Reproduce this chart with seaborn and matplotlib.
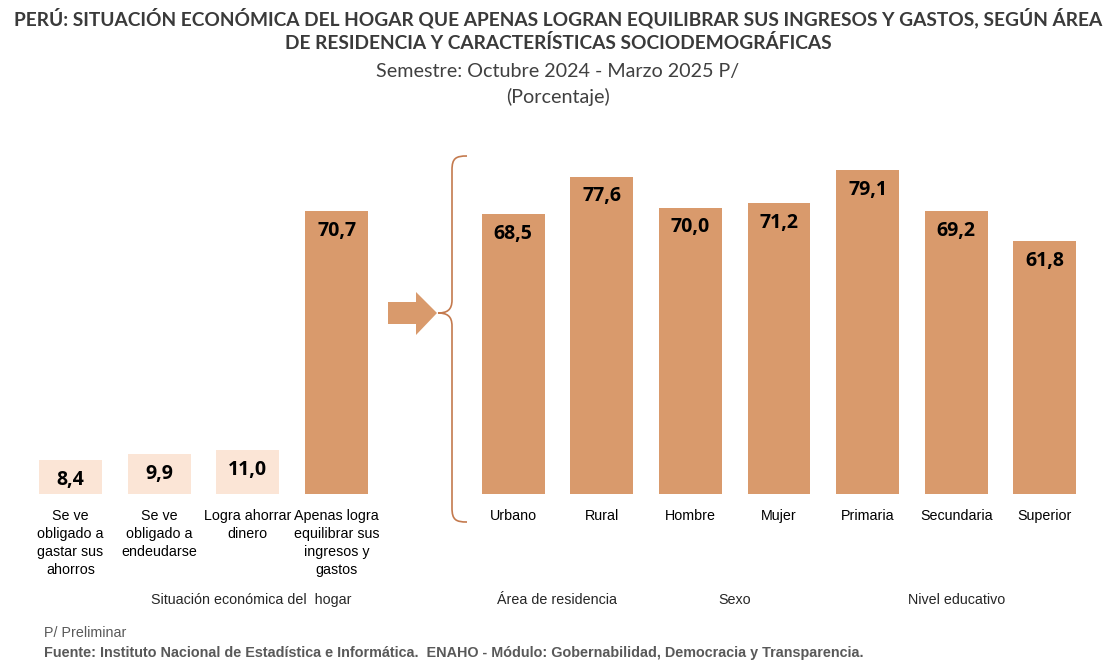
import pandas as pd
import matplotlib.pyplot as plt
import seaborn as sns
from matplotlib.patches import Polygon, PathPatch
from matplotlib.path import Path

# data
situacion = ['Se ve\nobligado a\ngastar sus\nahorros', 'Se ve\nobligado a\nendeudarse',
             'Logra ahorrar\ndinero', 'Apenas logra\nequilibrar sus\ningresos y\ngastos']
situacion_pct = [8.4, 9.9, 11.0, 70.7]
grupos = ['Urbano', 'Rural', 'Hombre', 'Mujer', 'Primaria', 'Secundaria', 'Superior']
grupos_pct = [68.5, 77.6, 70.0, 71.2, 79.1, 69.2, 61.8]
bloques = ['Área de residencia', 'Sexo', 'Nivel educativo']

BAR = '#D99A6C'
LIGHT = '#FBE5D6'
W, H = 1117, 672


def px(x, y):
    return (x / W, 1 - y / H)


def fmt(v):
    return f'{v:.1f}'.replace('.', ',')


sns.set_style('white')
plt.rcParams['font.family'] = ['Liberation Sans', 'DejaVu Sans']

fig = plt.figure(figsize=(W / 100, H / 100), dpi=100)

df1 = pd.DataFrame({'cat': situacion, 'pct': situacion_pct})
df2 = pd.DataFrame({'cat': grupos, 'pct': grupos_pct})

ax1 = fig.add_axes([26 / W, (H - 494) / H, 355 / W, 80 * 4.0 / H])
ax2 = fig.add_axes([469 / W, (H - 494) / H, 620 / W, 80 * 4.09 / H])

sns.barplot(data=df1, x='cat', y='pct', hue='cat', palette=[LIGHT, LIGHT, LIGHT, BAR],
            saturation=1, width=0.71, legend=False, ax=ax1)
sns.barplot(data=df2, x='cat', y='pct', color=BAR, saturation=1, width=0.71, ax=ax2)

for ax in (ax1, ax2):
    ax.set_ylim(0, 80)
    ax.set_xlabel('')
    ax.set_ylabel('')
    ax.set_yticks([])
    sns.despine(ax=ax, left=True, bottom=True)
    ax.tick_params(axis='x', length=0, pad=11, labelsize=10.3, colors='black')
    for lbl in ax.get_xticklabels():
        lbl.set_linespacing(1.35)
    for bar in ax.patches:
        bar.set_edgecolor('none')
        ax.annotate(fmt(bar.get_height()), (bar.get_x() + bar.get_width() / 2, bar.get_height()),
                    xytext=(0, -7), textcoords='offset points', ha='center', va='top',
                    fontsize=14, fontweight='bold', family='Open Sans', color='black')

# titles
fig.text(*px(558, 18), 'PERÚ: SITUACIÓN ECONÓMICA DEL HOGAR QUE APENAS LOGRAN EQUILIBRAR SUS INGRESOS Y GASTOS, SEGÚN ÁREA',
         ha='center', va='center', fontsize=13.8, fontweight='bold', family='Lato', color='#3a3a3a')
fig.text(*px(558, 43), 'DE RESIDENCIA Y CARACTERÍSTICAS SOCIODEMOGRÁFICAS',
         ha='center', va='center', fontsize=13.8, fontweight='bold', family='Lato', color='#3a3a3a')
fig.text(*px(558, 72), 'Semestre: Octubre 2024 - Marzo 2025 P/', ha='center', va='center',
         fontsize=14.2, family='Lato', color='#404040')
fig.text(*px(558, 97), '(Porcentaje)', ha='center', va='center',
         fontsize=14.2, family='Lato', color='#404040')

# group labels
fig.text(*px(251, 600), 'Situación económica del  hogar', ha='center', va='center', fontsize=10.3)
for name, xc in zip(bloques, [557, 735, 957]):
    fig.text(*px(xc, 600), name, ha='center', va='center', fontsize=10.3)

# footer
fig.text(*px(44, 633), 'P/ Preliminar', ha='left', va='center', fontsize=10.3, color='#595959')
fig.text(*px(44, 653), 'Fuente: Instituto Nacional de Estadística e Informática.  ENAHO - Módulo: Gobernabilidad, Democracia y Transparencia.',
         ha='left', va='center', fontsize=10.4, fontweight='bold', color='#595959')

# block arrow
arrow = [px(388, 302), px(416, 302), px(416, 292), px(437, 313),
         px(416, 335), px(416, 324), px(388, 324)]
fig.patches.append(Polygon(arrow, closed=True, transform=fig.transFigure,
                           facecolor=BAR, edgecolor='none'))

# curly brace
verts = [px(467, 156), px(456, 156), px(452, 158), px(452, 170),
         px(452, 300),
         px(452, 310), px(447, 313), px(438, 313),
         px(447, 313), px(452, 316), px(452, 326),
         px(452, 508),
         px(452, 520), px(456, 522), px(467, 522)]
codes = [Path.MOVETO, Path.CURVE4, Path.CURVE4, Path.CURVE4,
         Path.LINETO,
         Path.CURVE4, Path.CURVE4, Path.CURVE4,
         Path.CURVE4, Path.CURVE4, Path.CURVE4,
         Path.LINETO,
         Path.CURVE4, Path.CURVE4, Path.CURVE4]
fig.patches.append(PathPatch(Path(verts, codes), transform=fig.transFigure,
                             facecolor='none', edgecolor='#C47A4E', linewidth=1.2))

fig.savefig('out.png', dpi=100)
